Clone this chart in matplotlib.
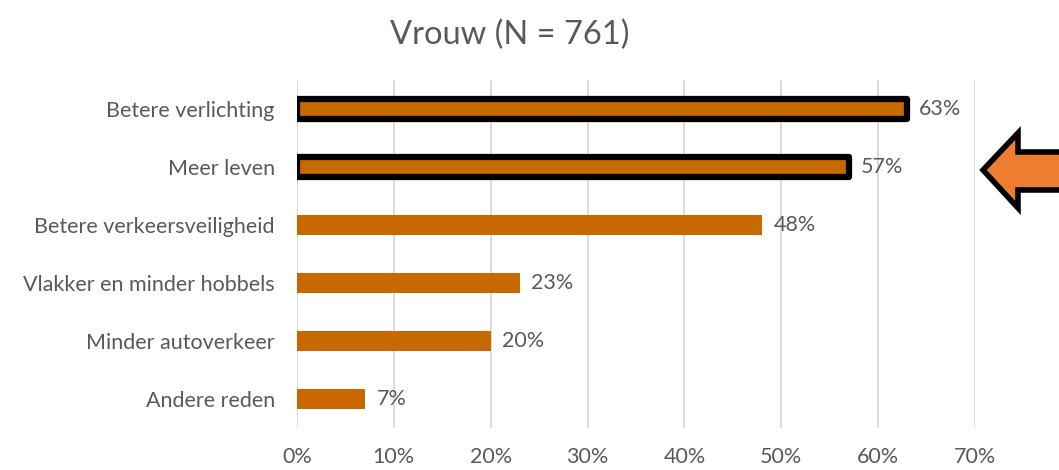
import matplotlib
matplotlib.use("Agg")
import matplotlib.pyplot as plt
from matplotlib.patches import Polygon

# 数据(从上到下)
categories = ["Betere verlichting", "Meer leven", "Betere verkeersveiligheid",
              "Vlakker en minder hobbels", "Minder autoverkeer", "Andere reden"]
values = [63, 57, 48, 23, 20, 7]
highlighted = [True, True, False, False, False, False]
xticks = [0, 10, 20, 30, 40, 50, 60, 70]

C_BAR = "#C86900"
C_ARROW = "#ED7D31"
C_TEXT = "#595959"
C_GRID = "#D9D9D9"

plt.rcParams["font.family"] = ["Lato", "DejaVu Sans"]

fig = plt.figure(figsize=(10.59, 4.70), dpi=100)
ax = fig.add_axes([297 / 1059, 1 - 428 / 470, (975 - 297) / 1059, 348 / 470])

ypos = list(range(len(categories)))
for y, v, hl in zip(ypos, values, highlighted):
    if hl:
        ax.barh(y, v, height=0.345, color=C_BAR, edgecolor="black", linewidth=4.5,
                joinstyle="round", zorder=3)
    else:
        ax.barh(y, v, height=0.345, color=C_BAR, zorder=3)
    ax.text(v + 1.2, y, f"{v}%", va="center", ha="left", fontsize=15.5, color=C_TEXT)

ax.set_xlim(0, 70)
ax.set_ylim(len(categories) - 0.5, -0.5)
ax.set_yticks(ypos)
ax.set_yticklabels(categories)
ax.set_xticks(xticks)
ax.set_xticklabels([f"{t}%" for t in xticks])
ax.tick_params(axis="both", length=0, labelsize=15.5, labelcolor=C_TEXT)
ax.tick_params(axis="y", pad=16)
ax.tick_params(axis="x", pad=14)
ax.grid(axis="x", color=C_GRID, linewidth=1.3, zorder=0)
for s in ax.spines.values():
    s.set_visible(False)

fig.text(510 / 1059, 1 - 35 / 470, "Vrouw (N = 761)", ha="center", va="center",
         fontsize=23.5, color=C_TEXT)

# 指向前两项的箭头(图形像素坐标)
W, H = 1059, 470
pts = [(983, 170), (1018, 133), (1018, 152), (1070, 152),
       (1070, 190), (1018, 190), (1018, 208)]
arrow = Polygon([(x / W, 1 - y / H) for x, y in pts], closed=True,
                transform=fig.transFigure, facecolor=C_ARROW, edgecolor="black",
                linewidth=4, joinstyle="miter")
fig.patches.append(arrow)

fig.savefig("out.png", dpi=100)
